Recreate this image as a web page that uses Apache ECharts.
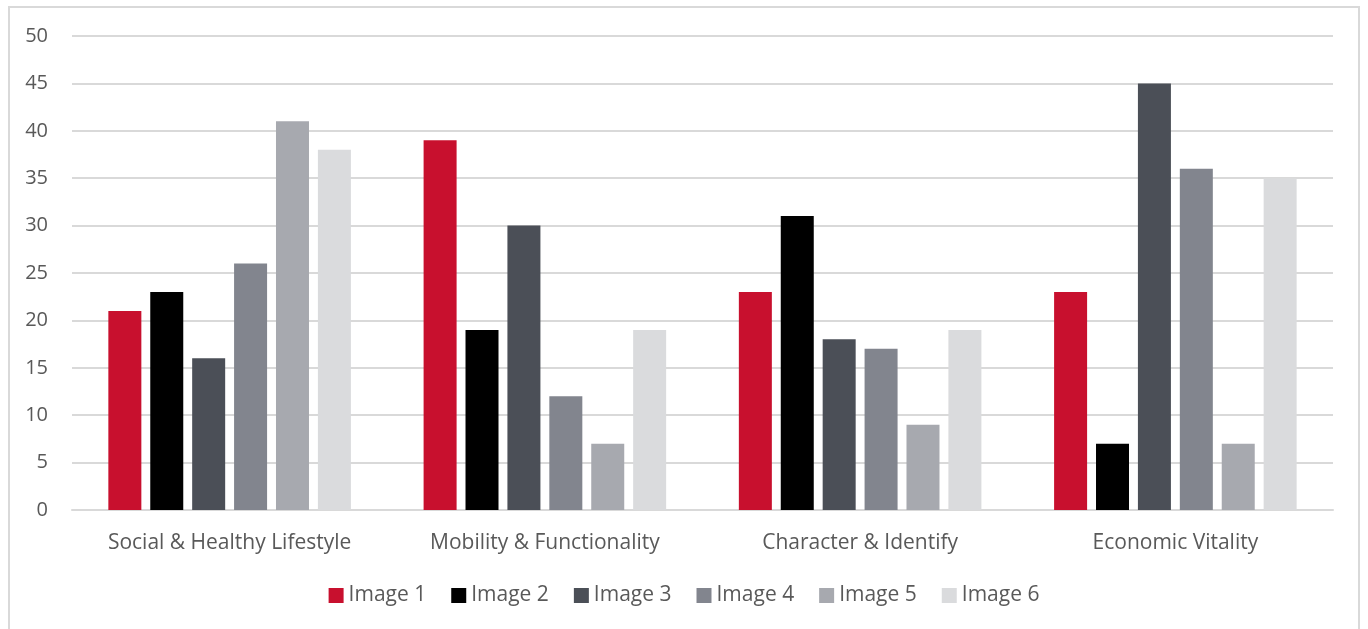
<!DOCTYPE html>
<html>
<head>
<meta charset="utf-8">
<title>Chart</title>
<script src="https://cdn.jsdelivr.net/npm/echarts@6/dist/echarts.min.js"></script>
<style>
html,body{margin:0;padding:0;background:#fff;overflow:hidden;}
#frame{position:absolute;left:8px;top:6px;width:1352px;height:640px;border:2px solid #d9d9d9;box-sizing:border-box;}
#main{position:absolute;left:0;top:0;width:1368px;height:629px;}
</style>
</head>
<body>
<div id="frame"></div>
<div id="main"></div>
<script type="text/javascript">
var categories = ['Social & Healthy Lifestyle', 'Mobility & Functionality', 'Character & Identify', 'Economic Vitality'];
var image1 = [21, 39, 23, 23];
var image2 = [23, 19, 31, 7];
var image3 = [16, 30, 18, 45];
var image4 = [26, 12, 17, 36];
var image5 = [41, 7, 9, 7];
var image6 = [38, 19, 19, 35];
var seriesNames = ['Image 1', 'Image 2', 'Image 3', 'Image 4', 'Image 5', 'Image 6'];
var colors = ['#c8102e', '#000000', '#4b4f57', '#82858e', '#a7a9af', '#dadbdd'];

var allData = [image1, image2, image3, image4, image5, image6];
var series = [];
for (var i = 0; i < allData.length; i++) {
    series.push({
        name: seriesNames[i],
        type: 'bar',
        data: allData[i],
        barWidth: 33,
        barGap: '27%',
        itemStyle: { color: colors[i] }
    });
}

var myChart = echarts.init(document.getElementById('main'));
var option = {
    animation: false,
    color: colors,
    textStyle: { fontFamily: '"Open Sans", sans-serif' },
    grid: { left: 72, right: 35, top: 36, bottom: 119, containLabel: false },
    legend: {
        bottom: 18,
        left: 'center',
        itemWidth: 15,
        itemHeight: 15,
        itemGap: 25,
        icon: 'rect',
        textStyle: { fontSize: 21, color: '#595959', fontFamily: '"Open Sans", sans-serif' },
        data: seriesNames
    },
    xAxis: {
        type: 'category',
        data: categories,
        axisTick: { show: false },
        axisLine: { lineStyle: { color: '#d9d9d9', width: 2 } },
        axisLabel: { fontSize: 21, color: '#595959', margin: 23, interval: 0 }
    },
    yAxis: {
        type: 'value',
        min: 0,
        max: 50,
        interval: 5,
        axisLine: { show: false },
        axisTick: { show: false },
        splitLine: { lineStyle: { color: '#d9d9d9', width: 2 } },
        axisLabel: { fontSize: 20, color: '#595959', margin: 24 }
    },
    series: series
};
myChart.setOption(option);
</script>
</body>
</html>
